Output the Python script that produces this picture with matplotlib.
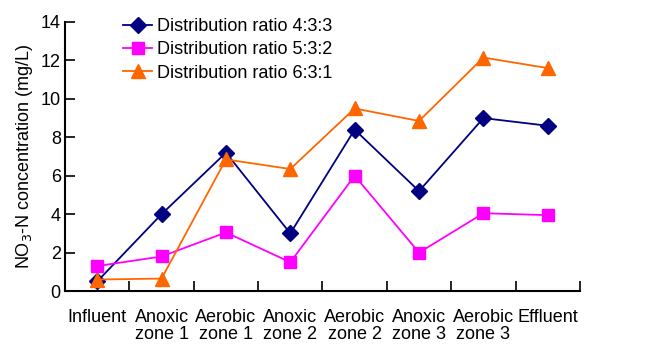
import matplotlib
matplotlib.use("Agg")
import matplotlib.pyplot as plt
import numpy as np

categories = ["Influent", "Anoxic\nzone 1", "Aerobic\nzone 1", "Anoxic\nzone 2",
              "Aerobic\nzone 2", "Anoxic\nzone 3", "Aerobic\nzone 3", "Effluent"]
ratio_433 = [0.5, 4.0, 7.2, 3.0, 8.4, 5.2, 9.0, 8.6]
ratio_532 = [1.3, 1.8, 3.05, 1.5, 6.0, 2.0, 4.05, 3.95]
ratio_631 = [0.6, 0.65, 6.85, 6.35, 9.5, 8.85, 12.15, 11.6]
labels = ["Distribution ratio 4:3:3", "Distribution ratio 5:3:2", "Distribution ratio 6:3:1"]
yticks = [0, 2, 4, 6, 8, 10, 12, 14]

plt.rcParams['font.family'] = ['Liberation Sans', 'DejaVu Sans']

fig = plt.figure(figsize=(6.58, 3.49), dpi=100)
ax = fig.add_axes([0.0988, 0.166, 0.7826, 0.771])
x = np.arange(len(categories))

ax.plot(x, ratio_433, color='#000080', marker='D', markersize=8, lw=1.3, label=labels[0])
ax.plot(x, ratio_532, color='#FF00FF', marker='s', markersize=9, lw=1.3, label=labels[1])
ax.plot(x, ratio_631, color='#FF6600', marker='^', markersize=10, lw=1.3, label=labels[2])

ax.set_xlim(-0.5, len(categories) - 0.5)
ax.set_ylim(0, 14)
ax.set_yticks(yticks)
ax.set_xticks(x)
ax.set_xticklabels(categories, fontsize=13, linespacing=1.0)
ax.set_xticks(np.arange(0.5, len(categories), 1.0), minor=True)
ax.tick_params(axis='x', which='major', length=0, pad=13)
ax.tick_params(axis='x', which='minor', direction='in', length=7, width=1.2)
ax.tick_params(axis='y', direction='in', length=7, width=1.2, labelsize=13, pad=3)
for s in ['top', 'right']:
    ax.spines[s].set_visible(False)
for s in ['left', 'bottom']:
    ax.spines[s].set_linewidth(1.5)
ax.set_ylabel("NO$_3$-N concentration (mg/L)", fontsize=13, labelpad=4)

ax.legend(loc='upper left', bbox_to_anchor=(0.113, 1.015), frameon=False, fontsize=13,
          handlelength=1.6, handletextpad=0.25, labelspacing=0.35, borderaxespad=0,
          borderpad=0)

fig.savefig("out.png", dpi=100)
